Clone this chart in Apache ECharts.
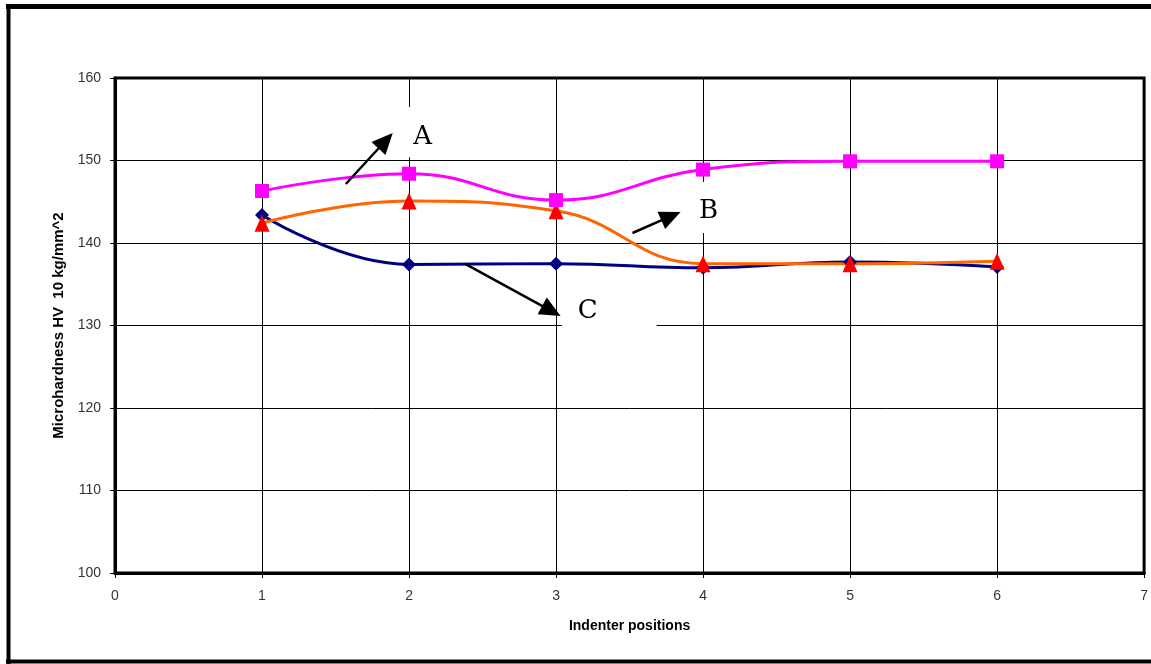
<!DOCTYPE html>
<html><head><meta charset="utf-8">
<script src="https://cdn.jsdelivr.net/npm/echarts@6/dist/echarts.min.js"></script>
<style>html,body{margin:0;padding:0;background:#fff}#c{width:1151px;height:664px}</style>
</head><body><div id="c"></div>
<script>
// Data
const positions = [1, 2, 3, 4, 5, 6];
const seriesA = [146.3, 148.4, 145.2, 148.9, 149.9, 149.9];
const seriesB = [142.4, 145.1, 143.9, 137.5, 137.5, 137.8];
const seriesC = [143.4, 137.4, 137.5, 137.0, 137.7, 137.1];
const xTicks = [0, 1, 2, 3, 4, 5, 6, 7];
const yTicks = [100, 110, 120, 130, 140, 150, 160];
const xTitle = 'Indenter positions';
const yTitle = 'Microhardness HV  10 kg/mm^2';
// annotation labels in data coordinates
const annLabels = ['A', 'B', 'C'];
const annTails = [[1.570, 147.15], [3.520, 141.21], [2.385, 137.45]];
const annTips = [[1.889, 153.33], [3.847, 143.76], [3.031, 131.15]];
const annText = [[2.093, 152.85], [4.037, 143.88], [3.215, 131.76]];
const annBoxes = [[1.92, 156.5, 2.24, 150.4], [3.89, 147.4, 4.18, 141.2], [3.04, 133.6, 3.684, 128.2]];

const chart = echarts.init(document.getElementById('c'), null, {renderer: 'canvas'});
const font = 'Liberation Sans, Arial, sans-serif';
function mk(name, vals, color, lineColor, symbol, size) {
  return {
    name: name, type: 'line', smooth: 0.45,
    data: positions.map((p, i) => [p, vals[i]]),
    symbol: symbol, symbolSize: size,
    itemStyle: {color: color},
    lineStyle: {color: lineColor, width: 3},
    animation: false
  };
}
chart.setOption({
  animation: false,
  backgroundColor: '#fff',
  grid: {left: 115, right: 6, top: 78, bottom: 91, show: true, borderColor: '#000', borderWidth: 3, containLabel: false},
  xAxis: {
    type: 'value', min: xTicks[0], max: xTicks[xTicks.length - 1], interval: 1,
    name: xTitle, nameLocation: 'middle', nameGap: 46,
    nameTextStyle: {fontFamily: font, fontWeight: 'bold', fontSize: 14, color: '#000'},
    axisLine: {show: true, lineStyle: {color: '#000', width: 3}},
    axisTick: {show: true, inside: false, length: 5, lineStyle: {color: '#000', width: 1}},
    axisLabel: {fontFamily: font, fontSize: 14, color: '#333', margin: 16},
    splitLine: {show: true, lineStyle: {color: '#000', width: 1}}
  },
  yAxis: {
    type: 'value', min: yTicks[0], max: yTicks[yTicks.length - 1], interval: 10,
    name: yTitle, nameLocation: 'middle', nameGap: 47,
    nameTextStyle: {fontFamily: font, fontWeight: 'bold', fontSize: 15, color: '#000'},
    axisLine: {show: true, lineStyle: {color: '#000', width: 3}},
    axisTick: {show: true, inside: false, length: 5, lineStyle: {color: '#000', width: 1}},
    axisLabel: {fontFamily: font, fontSize: 14, color: '#333', margin: 14},
    splitLine: {show: true, lineStyle: {color: '#000', width: 1}}
  },
  series: [
    mk('C', seriesC, '#000080', '#000080', 'diamond', [14, 14]),
    mk('B', seriesB, '#ff0000', '#ff6600', 'triangle', [15, 17]),
    mk('A', seriesA, '#ff00ff', '#ff00ff', 'rect', [14, 14])
  ]
});

function px(p) { return chart.convertToPixel({gridIndex: 0}, p); }
const g = [];
// outer frame
g.push({type: 'line', shape: {x1: 8.5, y1: 4, x2: 8.5, y2: 664}, style: {stroke: '#000', lineWidth: 4}, z: 100});
g.push({type: 'line', shape: {x1: 6, y1: 6.5, x2: 1151, y2: 6.5}, style: {stroke: '#000', lineWidth: 5}, z: 100});
g.push({type: 'line', shape: {x1: 6, y1: 661.5, x2: 1151, y2: 661.5}, style: {stroke: '#000', lineWidth: 4}, z: 100});
annLabels.forEach((lab, i) => {
  const b1 = px([annBoxes[i][0], annBoxes[i][1]]);
  const b2 = px([annBoxes[i][2], annBoxes[i][3]]);
  g.push({type: 'rect', shape: {x: b1[0], y: b1[1], width: b2[0] - b1[0], height: b2[1] - b1[1]}, style: {fill: '#fff'}, z: 50});
  const t = px(annTails[i]);
  const h = px(annTips[i]);
  const dx = h[0] - t[0], dy = h[1] - t[1];
  const len = Math.hypot(dx, dy);
  const ux = dx / len, uy = dy / len, nx = -uy, ny = ux;
  const L = 21, W = 9.5;
  const bx = h[0] - L * ux, by = h[1] - L * uy;
  g.push({type: 'line', shape: {x1: t[0], y1: t[1], x2: bx + 3 * ux, y2: by + 3 * uy}, style: {stroke: '#000', lineWidth: 2.5}, z: 60});
  g.push({type: 'polygon', shape: {points: [[h[0], h[1]], [bx + W * nx, by + W * ny], [bx - W * nx, by - W * ny]]}, style: {fill: '#000'}, z: 60});
  const tp = px(annText[i]);
  g.push({type: 'text', x: tp[0], y: tp[1], style: {text: lab, fontFamily: 'DejaVu Serif', fontSize: 26, fill: '#000', align: 'center', verticalAlign: 'middle'}, z: 60});
});
chart.setOption({graphic: g});
</script>
</body></html>
